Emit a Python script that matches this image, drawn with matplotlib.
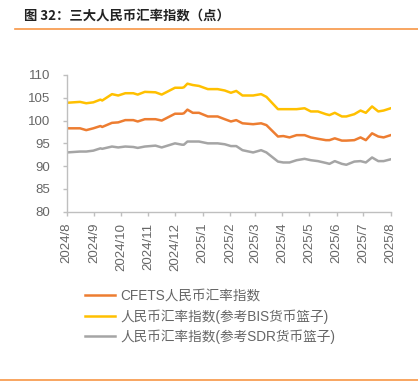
import pandas as pd
import matplotlib.pyplot as plt
import matplotlib.dates as mdates
from matplotlib.lines import Line2D

# -----------------------------
# Data
# -----------------------------

dates = [
    "2024-08-01", "2024-08-16", "2024-08-23", "2024-08-31", "2024-09-08", "2024-09-10",
    "2024-09-21", "2024-09-28", "2024-10-06", "2024-10-15", "2024-10-20", "2024-10-28",
    "2024-11-09", "2024-11-16", "2024-12-01", "2024-12-09", "2024-12-11", "2024-12-15",
    "2024-12-21", "2024-12-28", "2025-01-07", "2025-01-18", "2025-01-26", "2025-02-02",
    "2025-02-08", "2025-02-15", "2025-02-27", "2025-03-08", "2025-03-14", "2025-03-27",
    "2025-04-02", "2025-04-09", "2025-04-17", "2025-04-26", "2025-05-03", "2025-05-11",
    "2025-05-20", "2025-05-24", "2025-05-30", "2025-06-07", "2025-06-12", "2025-06-21",
    "2025-06-28", "2025-07-04", "2025-07-11", "2025-07-18", "2025-07-24", "2025-08-01",
]

cfets = [
    98.3, 98.3, 97.9, 98.3, 98.8, 98.6, 99.5, 99.6, 100.1, 100.1, 99.8, 100.3,
    100.3, 100.0, 101.5, 101.5, 101.6, 102.4, 101.7, 101.7, 100.9, 100.9, 100.3, 99.8,
    100.1, 99.4, 99.2, 99.4, 99.0, 96.5, 96.6, 96.3, 96.8, 96.8, 96.3, 96.0,
    95.7, 95.7, 96.1, 95.6, 95.6, 95.7, 96.3, 95.7, 97.2, 96.5, 96.3, 96.8,
]

bis = [
    103.9, 104.1, 103.8, 104.0, 104.6, 104.4, 105.8, 105.5, 106.0, 106.0, 105.7, 106.3,
    106.2, 105.7, 107.2, 107.2, 107.3, 108.1, 107.8, 107.6, 106.9, 106.9, 106.6, 106.1,
    106.5, 105.5, 105.5, 105.8, 105.2, 102.5, 102.5, 102.5, 102.5, 102.7, 102.0, 102.0,
    101.4, 101.2, 101.7, 100.9, 100.9, 101.4, 102.2, 101.7, 103.1, 102.0, 102.2, 102.7,
]

sdr = [
    93.0, 93.2, 93.2, 93.4, 93.9, 93.8, 94.3, 94.1, 94.3, 94.2, 94.0, 94.3,
    94.5, 94.1, 95.0, 94.7, 94.7, 95.4, 95.4, 95.4, 95.0, 95.0, 94.8, 94.4,
    94.4, 93.5, 93.0, 93.5, 93.0, 91.0, 90.8, 90.8, 91.3, 91.6, 91.3, 91.1,
    90.7, 90.5, 91.1, 90.5, 90.3, 91.0, 91.1, 90.8, 91.9, 91.1, 91.1, 91.5,
]

labels = ["CFETS人民币汇率指数", "人民币汇率指数(参考BIS货币篮子)", "人民币汇率指数(参考SDR货币篮子)"]
colors = ["#ED7D31", "#FFC000", "#A5A5A5"]

x = pd.to_datetime(dates)

# -----------------------------
# Figure
# -----------------------------

plt.rcParams["font.family"] = ["Liberation Sans", "Noto Sans CJK SC", "DejaVu Sans"]

fig = plt.figure(figsize=(4.18, 3.9), dpi=100)
ax = fig.add_axes([0.1596, 0.4572, 0.7751, 0.3505])

for vals, col in zip([cfets, bis, sdr], colors):
    ax.plot(x, vals, color=col, linewidth=1.8, solid_joinstyle="round")

ax.set_ylim(80, 110)
ax.set_yticks(range(80, 111, 5))
ax.set_xlim(pd.Timestamp("2024-08-01"), pd.Timestamp("2025-08-01"))
ax.xaxis.set_major_locator(mdates.MonthLocator())
ax.xaxis.set_major_formatter(
    plt.FuncFormatter(lambda v, p: f"{mdates.num2date(v).year}/{mdates.num2date(v).month}")
)

for s in ["top", "right"]:
    ax.spines[s].set_visible(False)
for s in ["left", "bottom"]:
    ax.spines[s].set_color("#BFBFBF")
    ax.spines[s].set_linewidth(1.0)

ax.tick_params(axis="y", colors="#BFBFBF", labelcolor="#666666", labelsize=9.5,
               length=3, width=1.0, pad=9)
ax.tick_params(axis="x", colors="#BFBFBF", labelcolor="#666666", labelsize=9.5,
               length=3, width=1.0, pad=5, labelrotation=90)

# title and rules
fig.text(24 / 418, 1 - 16 / 390, "图 32：三大人民币汇率指数（点）", fontsize=9.6,
         fontweight="bold", color="#222222", va="center", ha="left",
         family=["Noto Sans CJK SC", "DejaVu Sans"])
fig.add_artist(Line2D([15 / 418, 1], [1 - 29 / 390] * 2, color="#F79646", linewidth=1.2))
fig.add_artist(Line2D([0, 1], [1 - 380 / 390] * 2, color="#F79646", linewidth=1.2))

# legend
handles = [Line2D([], [], color=c, linewidth=1.8) for c in colors]
leg = fig.legend(handles, labels, loc="upper left", bbox_to_anchor=(85 / 418, 1 - 289 / 390),
                 frameon=False, fontsize=9.8, handlelength=2.2, handletextpad=0.4,
                 labelspacing=0.45, borderaxespad=0, borderpad=0)
for t in leg.get_texts():
    t.set_color("#666666")

fig.savefig("out.png", dpi=100)
